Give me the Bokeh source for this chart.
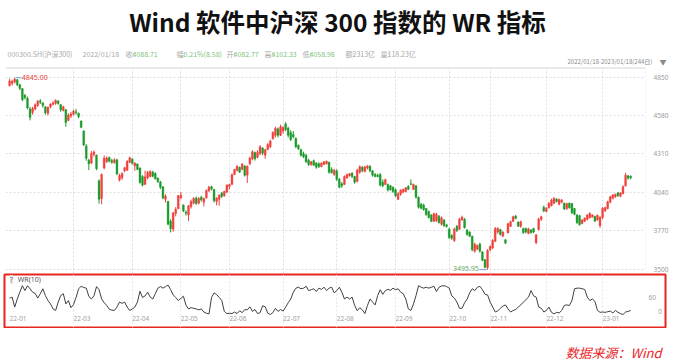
import numpy as np
from bokeh.plotting import figure
from bokeh.models import ColumnDataSource, FixedTicker, Grid, Label, Range1d, Span
from bokeh.layouts import column
from bokeh.embed import file_html
from bokeh.resources import INLINE
from bokeh.core.properties import value

# ---------------- data (CSI 300, 2022/01/18 - 2023/01/18, 244 trading days) ----------------
OPEN = [4790, 4805, 4815, 4830, 4795, 4768, 4722, 4700, 4625, 4600, 4625, 4650, 4682, 4668, 4640, 4595,
        4640, 4658, 4665, 4680, 4655, 4615, 4620, 4545, 4575, 4588, 4605, 4595, 4540, 4470, 4365, 4265,
        4245, 4305, 4300, 4120, 3995, 4210, 4255, 4284, 4262, 4248, 4268, 4125, 4140, 4190, 4195, 4250,
        4272, 4225, 4238, 4210, 4150, 4095, 4140, 4150, 4182, 4172, 4138, 4112, 4078, 3990, 3975, 3835,
        3780, 3890, 3925, 4000, 3950, 3900, 3880, 3940, 3962, 3998, 3962, 4005, 3970, 4000, 4050, 4078,
        4060, 3975, 3990, 4035, 4015, 4040, 4080, 4095, 4165, 4195, 4215, 4200, 4225, 4160, 4240, 4275,
        4320, 4285, 4310, 4350, 4300, 4340, 4360, 4415, 4440, 4485, 4440, 4470, 4520, 4490, 4460, 4445,
        4420, 4370, 4340, 4310, 4300, 4265, 4235, 4262, 4245, 4240, 4220, 4235, 4240, 4250, 4200, 4165,
        4190, 4130, 4100, 4095, 4140, 4155, 4175, 4150, 4115, 4180, 4215, 4185, 4210, 4222, 4190, 4165,
        4160, 4165, 4110, 4095, 4095, 4085, 4075, 4058, 3990, 4025, 4040, 4045, 4080, 4100, 4060, 4085,
        4005, 3955, 3950, 3925, 3905, 3880, 3835, 3840, 3870, 3815, 3845, 3810, 3780, 3735, 3700, 3800,
        3780, 3845, 3850, 3775, 3760, 3730, 3625, 3640, 3675, 3620, 3565, 3510, 3635, 3648, 3695, 3760,
        3778, 3730, 3705, 3755, 3800, 3835, 3872, 3830, 3800, 3785, 3785, 3750, 3775, 3785, 3685, 3778,
        3850, 3935, 3905, 3930, 3945, 3962, 3990, 3955, 3970, 3962, 3925, 3962, 3960, 3925, 3880, 3875,
        3820, 3835, 3848, 3860, 3865, 3870, 3845, 3805, 3862, 3910, 3925, 3970, 3995, 4008, 4035, 4012,
        4030, 4085, 4155, 4152]
HIGH = [4838, 4830, 4845, 4836, 4802, 4772, 4730, 4712, 4640, 4640, 4665, 4688, 4695, 4672, 4645, 4642,
        4665, 4680, 4692, 4688, 4660, 4648, 4625, 4595, 4605, 4620, 4625, 4600, 4545, 4475, 4378, 4275,
        4330, 4335, 4305, 4130, 4172, 4298, 4292, 4290, 4275, 4278, 4275, 4170, 4180, 4218, 4265, 4290,
        4280, 4252, 4242, 4215, 4160, 4192, 4190, 4195, 4190, 4180, 4145, 4120, 4082, 4025, 3980, 3850,
        3900, 3935, 4020, 4042, 3955, 3912, 3950, 3988, 4005, 4010, 4005, 4015, 4002, 4060, 4085, 4085,
        4062, 4005, 4025, 4040, 4050, 4095, 4100, 4170, 4205, 4230, 4220, 4245, 4230, 4228, 4290, 4335,
        4325, 4335, 4370, 4355, 4345, 4385, 4410, 4468, 4500, 4495, 4515, 4505, 4533, 4500, 4475, 4470,
        4425, 4375, 4345, 4325, 4310, 4275, 4260, 4270, 4250, 4250, 4250, 4260, 4262, 4255, 4215, 4205,
        4200, 4140, 4112, 4158, 4170, 4175, 4180, 4155, 4205, 4228, 4225, 4225, 4230, 4230, 4195, 4175,
        4170, 4175, 4130, 4135, 4100, 4090, 4080, 4065, 4040, 4060, 4065, 4075, 4090, 4130, 4100, 4090,
        4010, 3965, 3960, 3930, 3910, 3885, 3895, 3895, 3880, 3870, 3850, 3818, 3790, 3745, 3790, 3810,
        3860, 3875, 3858, 3780, 3765, 3735, 3685, 3672, 3685, 3625, 3570, 3640, 3665, 3710, 3795, 3792,
        3782, 3765, 3710, 3825, 3840, 3875, 3880, 3835, 3840, 3790, 3792, 3790, 3780, 3790, 3745, 3860,
        3875, 3945, 3935, 3970, 3995, 4005, 3998, 3995, 3992, 3968, 3965, 3968, 3965, 3930, 3885, 3880,
        3850, 3862, 3885, 3898, 3885, 3875, 3882, 3870, 3935, 3938, 3980, 4015, 4028, 4030, 4042, 4040,
        4088, 4177, 4160, 4158]
LOW = [4782, 4790, 4805, 4785, 4758, 4680, 4692, 4622, 4545, 4585, 4615, 4640, 4660, 4635, 4585, 4580,
       4630, 4650, 4655, 4655, 4605, 4608, 4500, 4540, 4562, 4580, 4585, 4560, 4490, 4365, 4262, 4195,
       4238, 4290, 4195, 3960, 3955, 4200, 4245, 4250, 4240, 4240, 4160, 4115, 4128, 4180, 4190, 4245,
       4235, 4190, 4195, 4100, 4080, 4090, 4130, 4145, 4145, 4128, 4105, 4062, 3990, 3968, 3808, 3757,
       3762, 3870, 3920, 3990, 3900, 3875, 3838, 3925, 3955, 3950, 3955, 3975, 3940, 3995, 4040, 4052,
       3968, 3948, 3945, 4000, 4008, 4035, 4060, 4090, 4160, 4185, 4175, 4195, 4150, 4105, 4230, 4265,
       4262, 4280, 4300, 4300, 4275, 4335, 4350, 4410, 4425, 4425, 4435, 4450, 4470, 4425, 4400, 4420,
       4350, 4338, 4290, 4280, 4245, 4225, 4225, 4225, 4205, 4210, 4215, 4230, 4235, 4170, 4170, 4155,
       4120, 4068, 4070, 4090, 4135, 4150, 4140, 4100, 4110, 4170, 4180, 4180, 4200, 4180, 4150, 4145,
       4145, 4080, 4075, 4090, 4045, 4050, 4035, 4005, 3985, 4015, 4035, 4040, 4055, 4090, 4055, 3995,
       3925, 3920, 3910, 3875, 3855, 3830, 3830, 3830, 3820, 3805, 3795, 3790, 3712, 3705, 3690, 3760,
       3775, 3840, 3785, 3735, 3725, 3625, 3615, 3632, 3615, 3555, 3505, 3495.95, 3625, 3640, 3690, 3748,
       3735, 3725, 3675, 3750, 3795, 3830, 3850, 3795, 3790, 3748, 3750, 3745, 3750, 3752, 3675, 3770,
       3838, 3900, 3900, 3925, 3940, 3955, 3968, 3948, 3962, 3915, 3915, 3925, 3885, 3878, 3818, 3805,
       3815, 3830, 3842, 3855, 3860, 3832, 3840, 3790, 3850, 3900, 3920, 3962, 3990, 4000, 4008, 4005,
       4025, 4080, 4128, 4130]
CLOSE = [4822, 4820, 4835, 4795, 4770, 4690, 4705, 4632, 4565, 4628, 4655, 4680, 4672, 4650, 4598, 4638,
         4660, 4668, 4686, 4664, 4620, 4640, 4530, 4582, 4590, 4610, 4600, 4572, 4497, 4372, 4278, 4240,
         4312, 4322, 4205, 3990, 4165, 4280, 4280, 4258, 4250, 4268, 4168, 4158, 4172, 4212, 4258, 4282,
         4242, 4245, 4200, 4108, 4090, 4148, 4180, 4185, 4152, 4135, 4115, 4075, 4000, 4013, 3815, 3785,
         3895, 3921, 4016, 4019, 3908, 3892, 3945, 3975, 3996, 3962, 3995, 3985, 3995, 4052, 4075, 4062,
         3980, 3998, 4020, 4010, 4045, 4090, 4094, 4165, 4200, 4222, 4182, 4238, 4160, 4222, 4280, 4325,
         4275, 4320, 4360, 4315, 4338, 4375, 4400, 4460, 4490, 4440, 4500, 4495, 4480, 4440, 4410, 4430,
         4360, 4345, 4300, 4290, 4255, 4235, 4255, 4230, 4215, 4220, 4245, 4255, 4258, 4180, 4178, 4195,
         4130, 4075, 4085, 4150, 4165, 4170, 4150, 4110, 4195, 4220, 4190, 4218, 4225, 4190, 4160, 4150,
         4150, 4090, 4085, 4128, 4055, 4058, 4045, 4015, 4030, 4055, 4060, 4072, 4060, 4095, 4095, 4005,
         3935, 3928, 3918, 3882, 3862, 3835, 3890, 3885, 3825, 3860, 3805, 3800, 3720, 3717, 3782, 3770,
         3850, 3865, 3790, 3742, 3730, 3635, 3675, 3665, 3625, 3562, 3512, 3630, 3658, 3700, 3785, 3787,
         3742, 3760, 3682, 3818, 3832, 3868, 3855, 3800, 3832, 3755, 3760, 3782, 3755, 3760, 3740, 3852,
         3868, 3908, 3928, 3962, 3985, 3998, 3975, 3988, 3986, 3922, 3960, 3930, 3895, 3885, 3825, 3812,
         3845, 3858, 3880, 3892, 3880, 3836, 3878, 3865, 3928, 3932, 3972, 4008, 4020, 4025, 4015, 4035,
         4080, 4160, 4138, 4142]
WR10 = [53, 56, 24, 50, 72, 93, 77, 93, 83, 72, 68, 53, 67, 83, 61, 45, 34, 18, 13, 40, 61, 67, 34, 45,
        22, 32, 55, 83, 91, 87, 85, 58, 50, 60, 90, 80, 50, 38, 29, 17, 14, 13, 24, 40, 36, 40, 24, 13,
        18, 24, 40, 75, 55, 60, 72, 56, 50, 67, 85, 90, 85, 90, 95, 80, 63, 55, 45, 52, 59, 30, 18, 22,
        20, 18, 15, 18, 8, 4, 2, 55, 70, 64, 55, 45, 10, 3, 4, 3, 8, 3, 12, 6, 16, 15, 25, 10,
        16, 3, 6, 28, 25, 4, 0, 6, 20, 10, 16, 11, 24, 38, 50, 72, 85, 88, 83, 85, 91, 77, 80, 83,
        74, 85, 81, 88, 77, 85, 88, 70, 77, 88, 72, 50, 56, 50, 56, 29, 12, 22, 15, 3, 29, 50, 40, 31,
        61, 80, 65, 77, 81, 78, 85, 80, 83, 72, 67, 50, 18, 13, 34, 61, 93, 88, 85, 88, 85, 88, 91, 74,
        88, 92, 93, 90, 85, 60, 53, 40, 20, 20, 38, 50, 70, 83, 77, 88, 91, 80, 65, 63, 40, 24, 8, 12,
        20, 27, 31, 18, 8, 13, 16, 24, 31, 40, 48, 56, 77, 60, 56, 24, 20, 8, 13, 24, 7, 2, 7, 5,
        13, 29, 31, 29, 45, 83, 85, 85, 83, 81, 56, 45, 50, 42, 13, 7, 8, 7, 9, 11, 5, 13, 7, 3,
        0, 8, 10, 13]

MONTH_POS = [0, 25, 48, 67, 86, 107, 128, 151, 172, 188, 210, 232]
MONTH_LABELS = ["22-01", "22-03", "22-04", "22-05", "22-06", "22-07", "22-08", "22-09",
                "22-10", "22-11", "22-12", "23-01"]
PRICE_TICKS = [3500, 3770, 4040, 4310, 4580, 4850]
WR_TICKS = [60, 0]
WR_TICK_LABELS = ["60", "0"]

TITLE = "Wind 软件中沪深 300 指数的 WR 指标"
DATE_RANGE = "2022/01/18-2023/01/18(244日)"
SOURCE = "数据来源：Wind"
HEADER = [("000300.SH(沪深300)", 7, "#a8a8a8"), ("2022/01/18", 82, "#a8a8a8"), ("收:", 125, "#a8a8a8"),
          ("4088.71", 132, "#7cc47c"), ("幅:", 176, "#a8a8a8"), ("0.21%(8.58)", 183, "#7cc47c"),
          ("开:", 226, "#a8a8a8"), ("4082.77", 233, "#7cc47c"), ("高:", 264, "#a8a8a8"),
          ("4102.33", 271, "#7cc47c"), ("低:", 302, "#a8a8a8"), ("4058.98", 309, "#7cc47c"),
          ("额:", 345, "#a8a8a8"), ("2313亿", 352, "#a8a8a8"), ("量:", 380, "#a8a8a8"),
          ("118.23亿", 387, "#a8a8a8")]

CJK = "Noto Sans CJK SC"
RED = "#f0413c"
GREEN = "#1c9a2b"
GRID = "#dedede"
W = 673

o = np.array(OPEN, float)
h = np.array(HIGH, float)
l = np.array(LOW, float)
c = np.array(CLOSE, float)
n = len(c)
idx = np.arange(n)
colors = np.where(c >= o, RED, GREEN)
src = ColumnDataSource(dict(x=idx, h=h, l=l, top=np.maximum(o, c), bottom=np.minimum(o, c), color=colors))


def no_align(p):
    try:
        p.frame_align = False
    except Exception:
        pass


def strip(y_top, y_bottom):
    """A blank strip whose data units are the page's pixels (y grows downwards)."""
    p = figure(width=W, height=y_bottom - y_top, output_backend="svg", toolbar_location=None,
               x_range=Range1d(0, W), y_range=Range1d(y_bottom, y_top),
               x_axis_location=None, y_axis_location=None,
               min_border_left=0, min_border_right=0, min_border_top=0, min_border_bottom=0)
    p.outline_line_color = None
    p.grid.visible = False
    p.background_fill_color = "white"
    p.border_fill_color = "white"
    no_align(p)
    return p


# ---------------- header strip (title, info line, date range) : page y 0..67 ----------------
p0 = strip(0, 67)
p0.text(x=[337], y=[21], text=[TITLE], text_font=value(CJK), text_font_size="24.5px",
        text_font_style="bold", text_color="#111111", text_align="center", text_baseline="middle")
p0.text(x=[t[1] for t in HEADER], y=[53] * len(HEADER), text=[t[0] for t in HEADER],
        text_color=[t[2] for t in HEADER], text_font=value(CJK), text_font_size="7px",
        text_align="left", text_baseline="middle")
p0.text(x=[567], y=[61], text=[DATE_RANGE], text_font=value(CJK), text_font_size="6px",
        text_color="#8a8a8a", text_align="left", text_baseline="middle")
p0.text(x=[659], y=[61], text=["▼"], text_font=value(CJK), text_font_size="7px",
        text_color="#8a8a8a", text_align="left", text_baseline="middle")

# ---------------- candlestick panel : page y 67..273 ----------------
H1 = 206
F1_LEFT, F1_RIGHT = 5, 645
p1 = figure(width=W, height=H1, output_backend="svg", toolbar_location=None,
            x_range=Range1d(-1.6, 248.8), y_range=Range1d(3468.4, 4916.8),
            x_axis_location=None, y_axis_location="right",
            min_border_left=F1_LEFT, min_border_right=W - F1_RIGHT,
            min_border_top=0, min_border_bottom=0)
no_align(p1)
p1.background_fill_color = "white"
p1.border_fill_color = "white"
p1.outline_line_color = None
p1.grid.visible = False
p1.add_layout(Grid(dimension=1, ticker=FixedTicker(ticks=PRICE_TICKS), grid_line_color=GRID,
                   grid_line_dash="2 2", grid_line_width=1))
p1.add_layout(Grid(dimension=0, ticker=FixedTicker(ticks=MONTH_POS[1:]), grid_line_color=GRID,
                   grid_line_dash="2 2", grid_line_width=1))
p1.add_layout(Span(location=p1.y_range.end, dimension="width", line_color="#d6d6d6", line_width=2))
p1.add_layout(Span(location=p1.x_range.end, dimension="height", line_color=GRID,
                   line_dash="2 2", line_width=1))
ax = p1.yaxis[0]
ax.ticker = FixedTicker(ticks=PRICE_TICKS)
ax.axis_line_color = None
ax.major_tick_line_color = None
ax.minor_tick_line_color = None
ax.major_label_standoff = 2
ax.major_label_text_font_size = "6.5px"
ax.major_label_text_color = "#9a9a9a"
ax.major_label_text_font = "Noto Sans"

p1.segment(x0="x", y0="h", x1="x", y1="l", line_color="color", line_width=1, source=src)
p1.vbar(x="x", width=0.72, top="top", bottom="bottom", fill_color="color", line_color="color",
        line_width=0.4, source=src)

imax = int(np.argmax(h)); hmax = h[imax]
imin = int(np.argmin(l)); lmin = l[imin]
p1.segment(x0=[imax + 0.4], y0=[hmax], x1=[imax + 2.6], y1=[hmax], line_color="#6f9fd6", line_width=1)
p1.text(x=[imax + 2.8], y=[hmax], text=[f"{hmax:.2f}"], text_color="#e8403a", text_font_size="7px",
        text_baseline="middle", text_align="left", text_font=value("Noto Sans"))
p1.segment(x0=[imin - 3.2], y0=[lmin], x1=[imin - 0.4], y1=[lmin], line_color="#6f9fd6", line_width=1)
p1.text(x=[imin - 3.4], y=[lmin], text=[f"{lmin:.2f}"], text_color="#6aa86a", text_font_size="7px",
        text_baseline="middle", text_align="right", text_font=value("Noto Sans"), y_offset=-1.5)

# ---------------- WR panel : page y 273..328 (red box 274..327) ----------------
H2 = 55
F2_LEFT, F2_RIGHT = 4, 665
p2 = figure(width=W, height=H2, output_backend="svg", toolbar_location=None,
            x_range=Range1d(-2.0, 256.6), y_range=Range1d(-41.9, 129.0),
            x_axis_location=None, y_axis_location=None,
            min_border_left=F2_LEFT, min_border_right=W - F2_RIGHT,
            min_border_top=1, min_border_bottom=1)
no_align(p2)
p2.background_fill_color = "white"
p2.border_fill_color = "white"
p2.outline_line_color = "#e8251f"
p2.outline_line_width = 2
p2.grid.visible = False
p2.add_layout(Grid(dimension=0, ticker=FixedTicker(ticks=MONTH_POS[1:]), grid_line_color="#e6e6e6",
                   grid_line_dash="2 2", grid_line_width=1))
p2.line(x=idx, y=WR10, line_color="#404040", line_width=1)
p2.text(x=MONTH_POS, y=[-13] * len(MONTH_POS), text=MONTH_LABELS, text_color="#a0a0a0",
        text_font_size="6.5px", text_align="left", text_baseline="middle", text_font=value("Noto Sans"))
p2.text(x=[251.4, 254.5], y=WR_TICKS, text=WR_TICK_LABELS, text_color="#a0a0a0",
        text_font_size="6.5px", text_align="center", text_baseline="middle", text_font=value("Noto Sans"),
        y_offset=[2, -3])
p2.text(x=[3.2], y=[112], text=["WR(10)"], text_color="#555555", text_font_size="7px",
        text_align="left", text_baseline="middle", text_font=value("Noto Sans"))
F2_BOTTOM_CANVAS = 327
p2.add_layout(Label(x=11 - F2_LEFT, y=F2_BOTTOM_CANVAS - 279, x_units="screen", y_units="screen",
                    text="?", text_font="Noto Sans", text_font_size="7px", text_color="#777777",
                    text_align="center", text_baseline="middle", background_fill_color="#e4e4e4"))

# ---------------- source strip : page y 328..362 ----------------
p3 = strip(328, 362)
p3.text(x=[565], y=[352], text=[SOURCE], text_font=value(CJK), text_font_size="13px",
        text_color="#e8251f", text_font_style="italic", text_align="left", text_baseline="middle")

layout = column(p0, p1, p2, p3, spacing=0)
with open("out.html", "w", encoding="utf-8") as f:
    f.write(file_html(layout, INLINE, title="WR"))
